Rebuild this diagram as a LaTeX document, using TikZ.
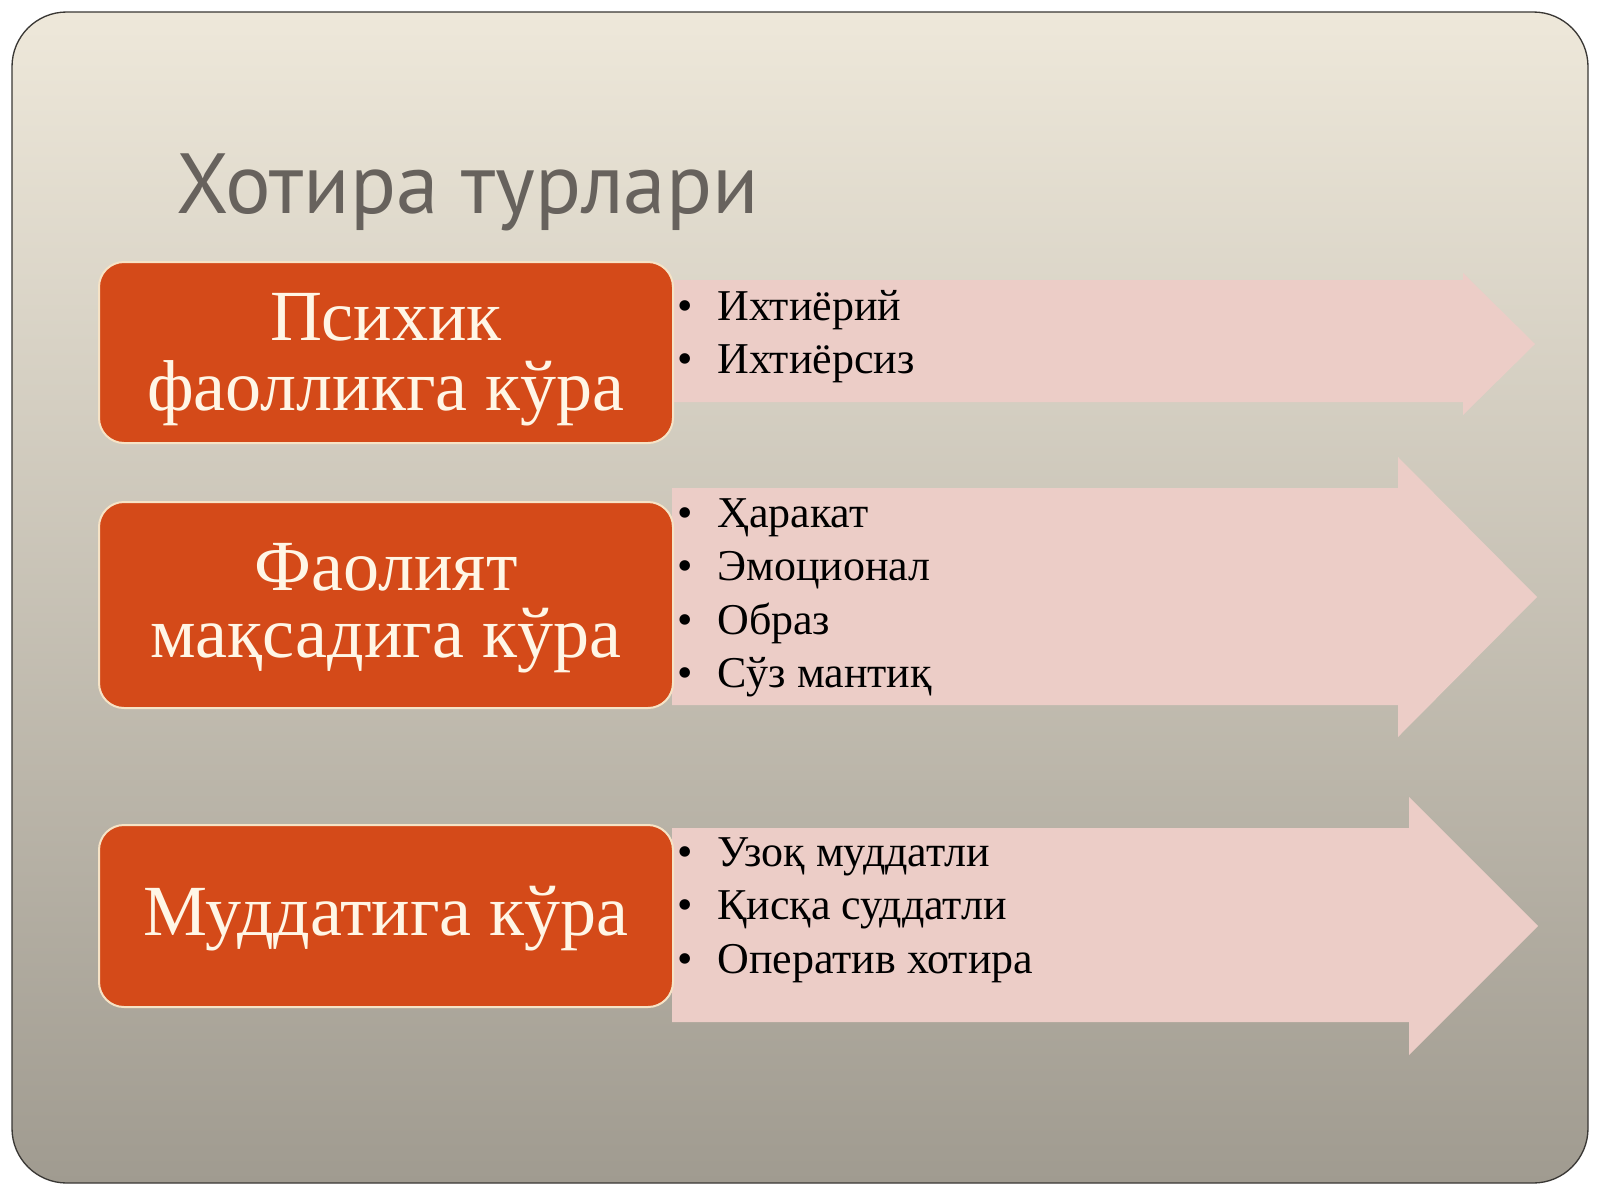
\documentclass[tikz,border=0pt]{standalone}
\usepackage{fontspec}
\setmainfont{Liberation Serif}
\newfontfamily\titlefont{PT Sans}
\definecolor{bgtop}{HTML}{EEE8DA}
\definecolor{bgbot}{HTML}{A09B90}
\definecolor{slideline}{HTML}{3A3835}
\definecolor{boxfill}{HTML}{D44A19}
\definecolor{boxline}{HTML}{F6E3C6}
\definecolor{boxtext}{HTML}{FFF6E6}
\definecolor{arrowpink}{HTML}{ECCDC7}
\definecolor{titlegray}{HTML}{67625D}
\tikzset{
  obox/.style={draw=boxline, line width=1.5pt, fill=boxfill, rounded corners=18.75pt,
    minimum width=430.5pt, inner sep=0pt},
  boxlabel/.style={anchor=base, inner sep=0pt, text=boxtext,
    font=\fontsize{54pt}{64pt}\selectfont},
  pinkarrow/.style={fill=arrowpink},
  itemtext/.style={anchor=base west, inner sep=0pt, text=black,
    font=\fontsize{33pt}{40pt}\selectfont},
  bulletmark/.style={anchor=base, inner sep=0pt, text=black,
    font=\fontsize{33pt}{40pt}\selectfont},
  titletext/.style={anchor=base west, inner sep=0pt, text=titlegray,
    font=\titlefont\fontsize{64pt}{74pt}\selectfont}
}
\begin{document}
\begin{tikzpicture}[x=0.75pt,y=-0.75pt]
\useasboundingbox (0,0) rectangle (1600,1200);
\fill[white] (0,0) rectangle (1600,1200);
% slide
\shade[top color=bgtop, bottom color=bgbot, rounded corners=41pt] (12,12) rectangle (1588,1183);
\draw[slideline, line width=1pt, rounded corners=41pt] (12,12) rectangle (1588,1183);
% title
\node[titletext] (title) at (176,213) {Хотира турлари};
% arrows
\fill[pinkarrow] (672,280) -- (1463,280) -- (1463,273) -- (1535,344) -- (1463,415) -- (1463,402) -- (672,402) -- cycle;
\fill[pinkarrow] (672,488) -- (1398,488) -- (1398,457) -- (1537,597) -- (1398,737) -- (1398,705) -- (672,705) -- cycle;
\fill[pinkarrow] (672,828) -- (1409,828) -- (1409,797) -- (1538,926) -- (1409,1055) -- (1409,1022) -- (672,1022) -- cycle;
% boxes
\node[obox, minimum height=135.75pt] (b1) at (386,352.5) {};
\node[obox, minimum height=154.5pt] (b2) at (386,605) {};
\node[obox, minimum height=136.5pt] (b3) at (386,916) {};
\node[boxlabel] (b1a) at (386,340) {Психик};
\node[boxlabel] (b1b) at (386,410) {фаолликга кўра};
\node[boxlabel] (b2a) at (386,590) {Фаолият};
\node[boxlabel] (b2b) at (386,657) {мақсадига кўра};
\node[boxlabel] (b3a) at (386,935) {Муддатига кўра};
% items arrow 1
\node[bulletmark] (m11) at (685,320) {•};
\node[itemtext] (i11) at (717,320) {Ихтиёрий};
\node[bulletmark] (m12) at (685,373) {•};
\node[itemtext] (i12) at (717,373) {Ихтиёрсиз};
% items arrow 2
\node[bulletmark] (m21) at (685,527) {•};
\node[itemtext] (i21) at (717,527) {Ҳаракат};
\node[bulletmark] (m22) at (685,580) {•};
\node[itemtext] (i22) at (717,580) {Эмоционал};
\node[bulletmark] (m23) at (685,634) {•};
\node[itemtext] (i23) at (717,634) {Образ};
\node[bulletmark] (m24) at (685,687) {•};
\node[itemtext] (i24) at (717,687) {Сўз мантиқ};
% items arrow 3
\node[bulletmark] (m31) at (685,866) {•};
\node[itemtext] (i31) at (717,866) {Узоқ муддатли};
\node[bulletmark] (m32) at (685,919) {•};
\node[itemtext] (i32) at (717,919) {Қисқа суддатли};
\node[bulletmark] (m33) at (685,973) {•};
\node[itemtext] (i33) at (717,973) {Оператив хотира};
\end{tikzpicture}
\end{document}
